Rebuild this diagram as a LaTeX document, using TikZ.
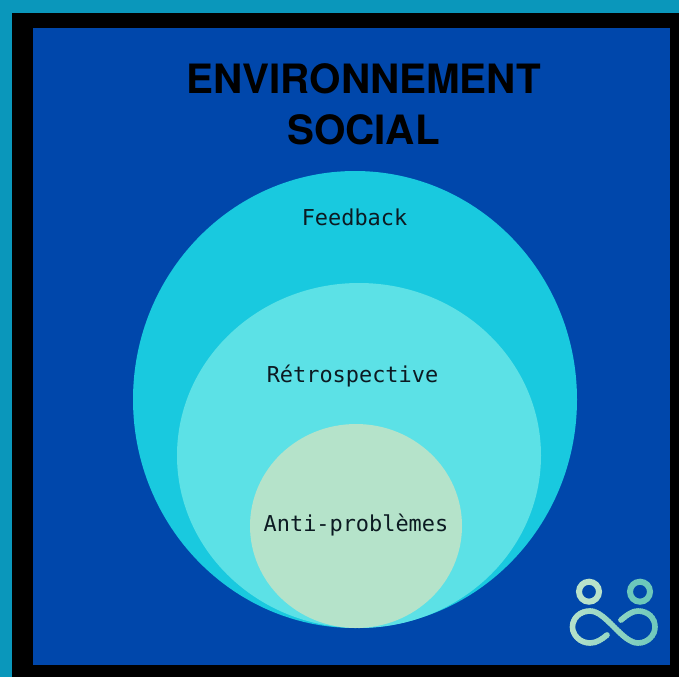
\documentclass[tikz,border=0pt]{standalone}
\usepackage{fontspec}
\setsansfont{TeX Gyre Heros}
\setmonofont{DejaVu Sans Mono}
\definecolor{teal0}{HTML}{0A97BB}
\definecolor{blue0}{HTML}{0047AB}
\definecolor{disc1}{HTML}{19C9DF}
\definecolor{disc2}{HTML}{5CE1E6}
\definecolor{disc3}{HTML}{B5E3CA}
\definecolor{logoA}{HTML}{B8E2CA}
\definecolor{logoB}{HTML}{6CC8BB}
\definecolor{ink}{HTML}{0C1A22}
\tikzset{
  titletext/.style={font=\sffamily\bfseries\fontsize{40.4}{51.5}\selectfont,text=black,align=center,inner sep=0pt},
  labeltext/.style={font=\ttfamily\fontsize{21.9}{26}\selectfont,text=ink,inner sep=0pt},
  logoline/.style={line width=5.6pt,line cap=round}
}
\newcommand{\infA}{(607,635) .. controls (602,639) and (597,643) .. (590,643) .. controls (580,643) and (572.5,635) .. (572.5,627) .. controls (572.5,618) and (580,611) .. (590,611) .. controls (606,611) and (622,643) .. (638,643) .. controls (648,643) and (655,635) .. (655,627) .. controls (655,618) and (648,611) .. (638,611) .. controls (632,611) and (627,615) .. (621,620)}
\begin{document}
\begin{tikzpicture}[x=1pt,y=-1pt]
\useasboundingbox (0,0) rectangle (679,677);
\fill[teal0] (0,0) rectangle (679,677);
\fill[black] (12,13) rectangle (679,677);
\fill[blue0] (33,28) rectangle (670,665);
\fill[disc1] (355,399.5) ellipse [x radius=222,y radius=228.5];
\fill[disc2] (359,455.5) ellipse [x radius=182,y radius=172.5];
\fill[disc3] (356,526) ellipse [x radius=106,y radius=102];
\node[titletext] (title) at (363.5,104.5) {ENVIRONNEMENT\\SOCIAL};
\node[labeltext] (feedback) at (354.5,217.5) {Feedback};
\node[labeltext] (retro) at (352.5,376) {Rétrospective};
\node[labeltext] (anti) at (356,525) {Anti-problèmes};
\draw[logoA,line width=6pt] (589,591.7) circle (10);
\draw[logoB,line width=6pt] (640,591.7) circle (10);
\foreach \i in {0,2,...,94}{
  \pgfmathsetmacro{\mixv}{100-\i*100/94}
  \begin{scope}
    \clip (566+\i,600) rectangle (568.6+\i,650);
    \draw[logoA!\mixv!logoB,logoline] \infA;
  \end{scope}
}
\end{tikzpicture}
\end{document}
